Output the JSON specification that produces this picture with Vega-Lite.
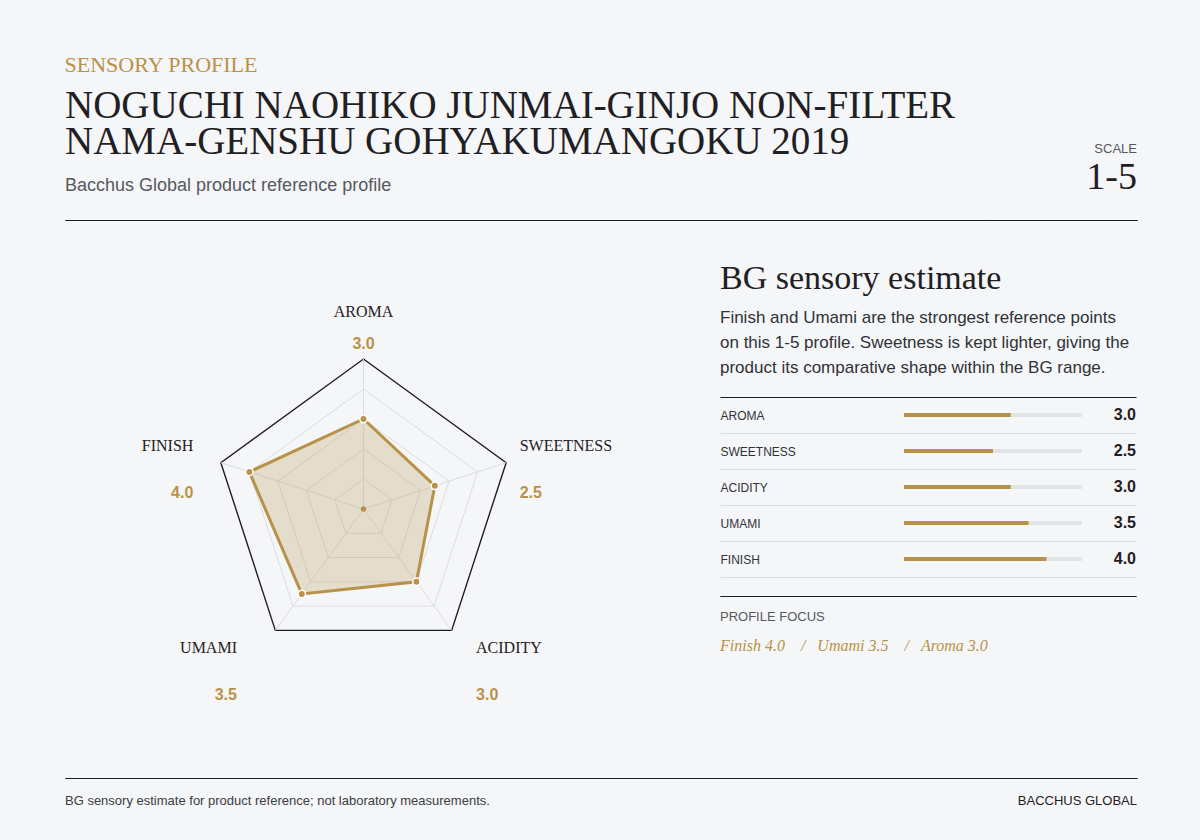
{
  "$schema": "https://vega.github.io/schema/vega-lite/v6.json",
  "background": "#f5f6f8",
  "padding": {"left": 64, "right": 64, "top": 53, "bottom": 40},
  "datasets": {
    "axes": [
      {"axis": "AROMA", "value": 3.0},
      {"axis": "SWEETNESS", "value": 2.5},
      {"axis": "ACIDITY", "value": 3.0},
      {"axis": "UMAMI", "value": 3.5},
      {"axis": "FINISH", "value": 4.0}
    ]
  },
  "title": {"text": "SENSORY PROFILE", "anchor": "start", "font": "Liberation Serif", "fontSize": 22, "fontWeight": "normal", "color": "#b99249", "offset": 10},
  "spacing": 36,
  "vconcat": [
    {
      "bounds": "flush",
      "spacing": 0,
      "hconcat": [
        {
          "width": 922, "height": 0.01,
          "view": {"stroke": "#1d1e22", "strokeWidth": 1},
          "data": {"values": [{}]},
          "mark": {"type": "text", "text": ""},
          "encoding": {},
          "title": {
            "text": ["NOGUCHI NAOHIKO JUNMAI-GINJO NON-FILTER", "NAMA-GENSHU GOHYAKUMANGOKU 2019"],
            "subtitle": "Bacchus Global product reference profile",
            "anchor": "start", "font": "Liberation Serif", "fontSize": 39, "fontWeight": "normal", "lineHeight": 36, "color": "#1f2023",
            "subtitleFont": "Liberation Sans", "subtitleFontSize": 18, "subtitleColor": "#55595f", "subtitlePadding": 15,
            "offset": 19
          }
        },
        {
          "width": 150, "height": 0.01,
          "view": {"stroke": "#1d1e22", "strokeWidth": 1},
          "data": {"values": [{}]},
          "mark": {"type": "text", "text": ""},
          "encoding": {},
          "title": {
            "text": "SCALE", "subtitle": "1-5",
            "anchor": "end", "font": "Liberation Sans", "fontSize": 13, "fontWeight": "normal", "color": "#55595f",
            "subtitleFont": "Liberation Serif", "subtitleFontSize": 38, "subtitleColor": "#1f2023", "subtitlePadding": 3,
            "offset": 17
          }
        }
      ]
    },
    {
      "spacing": 54,
      "hconcat": [
        {
          "width": 600, "height": 338,
          "data": {"name": "axes"},
          "transform": [
            {"window": [{"op": "row_number", "as": "i"}]},
            {"calculate": "(datum.i - 1) * 2 * PI / 5", "as": "a"},
            {"calculate": "datum.value * sin(datum.a)", "as": "px"},
            {"calculate": "datum.value * cos(datum.a)", "as": "py"},
            {"calculate": "5 * sin(datum.a)", "as": "ox"},
            {"calculate": "5 * cos(datum.a)", "as": "oy"},
            {"calculate": "4 * sin(datum.a)", "as": "lx"},
            {"calculate": "6 * cos(datum.a)", "as": "ly"},
            {"calculate": "0", "as": "zero"}
          ],
          "layer": [
            {
              "transform": [
                {"calculate": "[1, 2, 3, 4, 5]", "as": "rings"},
                {"flatten": ["rings"], "as": ["ring"]},
                {"calculate": "datum.ring * sin(datum.a)", "as": "gx"},
                {"calculate": "datum.ring * cos(datum.a)", "as": "gy"}
              ],
              "mark": {"type": "line", "interpolate": "linear-closed"},
              "encoding": {
                "x": {"field": "gx", "type": "quantitative", "scale": {"domain": [-9.95, 10.05], "nice": false, "zero": false}, "axis": null},
                "y": {"field": "gy", "type": "quantitative", "scale": {"domain": [-7.5333, 3.7333], "nice": false, "zero": false}, "axis": null},
                "detail": {"field": "ring", "type": "nominal"},
                "order": {"field": "i", "type": "quantitative"},
                "stroke": {"condition": {"test": "datum.ring === 5", "value": "#1d1e22"}, "value": "#dcdde0"},
                "strokeWidth": {"condition": {"test": "datum.ring === 5", "value": 1.4}, "value": 1}
              }
            },
            {
              "mark": {"type": "rule", "color": "#dcdde0", "strokeWidth": 1},
              "encoding": {
                "x": {"field": "zero", "type": "quantitative", "scale": {"domain": [-9.95, 10.05], "nice": false, "zero": false}, "axis": null},
                "y": {"field": "zero", "type": "quantitative", "scale": {"domain": [-7.5333, 3.7333], "nice": false, "zero": false}, "axis": null},
                "x2": {"field": "ox"},
                "y2": {"field": "oy"}
              }
            },
            {
              "mark": {"type": "line", "interpolate": "linear-closed", "fill": "#b99249", "fillOpacity": 0.25, "stroke": "#b99249", "strokeWidth": 3},
              "encoding": {
                "x": {"field": "px", "type": "quantitative", "scale": {"domain": [-9.95, 10.05], "nice": false, "zero": false}, "axis": null},
                "y": {"field": "py", "type": "quantitative", "scale": {"domain": [-7.5333, 3.7333], "nice": false, "zero": false}, "axis": null},
                "order": {"field": "i", "type": "quantitative"}
              }
            },
            {
              "mark": {"type": "circle", "size": 55, "color": "#b99249", "opacity": 1, "stroke": "#ffffff", "strokeWidth": 1.5},
              "encoding": {
                "x": {"field": "px", "type": "quantitative", "scale": {"domain": [-9.95, 10.05], "nice": false, "zero": false}, "axis": null},
                "y": {"field": "py", "type": "quantitative", "scale": {"domain": [-7.5333, 3.7333], "nice": false, "zero": false}, "axis": null}
              }
            },
            {
              "transform": [{"filter": "datum.i === 1"}],
              "mark": {"type": "circle", "size": 30, "color": "#b99249", "opacity": 1},
              "encoding": {
                "x": {"field": "zero", "type": "quantitative", "scale": {"domain": [-9.95, 10.05], "nice": false, "zero": false}, "axis": null},
                "y": {"field": "zero", "type": "quantitative", "scale": {"domain": [-7.5333, 3.7333], "nice": false, "zero": false}, "axis": null}
              }
            },
            {
              "transform": [{"filter": "datum.i === 1"}],
              "mark": {"type": "text", "align": "center", "baseline": "middle", "dy": -17, "font": "Liberation Serif", "fontSize": 16, "color": "#1f2023"},
              "encoding": {
                "x": {"field": "lx", "type": "quantitative", "scale": {"domain": [-9.95, 10.05], "nice": false, "zero": false}, "axis": null},
                "y": {"field": "ly", "type": "quantitative", "scale": {"domain": [-7.5333, 3.7333], "nice": false, "zero": false}, "axis": null},
                "text": {"field": "axis", "type": "nominal"}
              }
            },
            {
              "transform": [{"filter": "datum.i === 2 || datum.i === 3"}],
              "mark": {"type": "text", "align": "left", "baseline": "middle", "dx": 42, "dy": -7, "font": "Liberation Serif", "fontSize": 16, "color": "#1f2023"},
              "encoding": {
                "x": {"field": "lx", "type": "quantitative", "scale": {"domain": [-9.95, 10.05], "nice": false, "zero": false}, "axis": null},
                "y": {"field": "ly", "type": "quantitative", "scale": {"domain": [-7.5333, 3.7333], "nice": false, "zero": false}, "axis": null},
                "text": {"field": "axis", "type": "nominal"}
              }
            },
            {
              "transform": [{"filter": "datum.i === 4 || datum.i === 5"}],
              "mark": {"type": "text", "align": "right", "baseline": "middle", "dx": -56, "dy": -7, "font": "Liberation Serif", "fontSize": 16, "color": "#1f2023"},
              "encoding": {
                "x": {"field": "lx", "type": "quantitative", "scale": {"domain": [-9.95, 10.05], "nice": false, "zero": false}, "axis": null},
                "y": {"field": "ly", "type": "quantitative", "scale": {"domain": [-7.5333, 3.7333], "nice": false, "zero": false}, "axis": null},
                "text": {"field": "axis", "type": "nominal"}
              }
            },
            {
              "transform": [{"filter": "datum.i === 1"}],
              "mark": {"type": "text", "align": "center", "baseline": "middle", "dy": 15, "font": "Liberation Sans", "fontSize": 16, "fontWeight": "bold", "color": "#b99249"},
              "encoding": {
                "x": {"field": "lx", "type": "quantitative", "scale": {"domain": [-9.95, 10.05], "nice": false, "zero": false}, "axis": null},
                "y": {"field": "ly", "type": "quantitative", "scale": {"domain": [-7.5333, 3.7333], "nice": false, "zero": false}, "axis": null},
                "text": {"field": "value", "type": "quantitative", "format": ".1f"}
              }
            },
            {
              "transform": [{"filter": "datum.i === 2 || datum.i === 3"}],
              "mark": {"type": "text", "align": "left", "baseline": "middle", "dx": 42, "dy": 40, "font": "Liberation Sans", "fontSize": 16, "fontWeight": "bold", "color": "#b99249"},
              "encoding": {
                "x": {"field": "lx", "type": "quantitative", "scale": {"domain": [-9.95, 10.05], "nice": false, "zero": false}, "axis": null},
                "y": {"field": "ly", "type": "quantitative", "scale": {"domain": [-7.5333, 3.7333], "nice": false, "zero": false}, "axis": null},
                "text": {"field": "value", "type": "quantitative", "format": ".1f"}
              }
            },
            {
              "transform": [{"filter": "datum.i === 4 || datum.i === 5"}],
              "mark": {"type": "text", "align": "right", "baseline": "middle", "dx": -56, "dy": 40, "font": "Liberation Sans", "fontSize": 16, "fontWeight": "bold", "color": "#b99249"},
              "encoding": {
                "x": {"field": "lx", "type": "quantitative", "scale": {"domain": [-9.95, 10.05], "nice": false, "zero": false}, "axis": null},
                "y": {"field": "ly", "type": "quantitative", "scale": {"domain": [-7.5333, 3.7333], "nice": false, "zero": false}, "axis": null},
                "text": {"field": "value", "type": "quantitative", "format": ".1f"}
              }
            }
          ]
        },
        {
          "spacing": 12,
          "vconcat": [
            {
              "width": 416, "height": 180,
              "data": {"name": "axes"},
              "transform": [{"calculate": "0", "as": "zero"}, {"calculate": "5", "as": "full"}],
              "title": {
                "text": "BG sensory estimate",
                "subtitle": ["Finish and Umami are the strongest reference points", "on this 1-5 profile. Sweetness is kept lighter, giving the", "product its comparative shape within the BG range."],
                "anchor": "start", "font": "Liberation Serif", "fontSize": 34, "fontWeight": "normal", "color": "#1f2023",
                "subtitleFont": "Liberation Sans", "subtitleFontSize": 17, "subtitleLineHeight": 25, "subtitleColor": "#2f3237", "subtitlePadding": 14,
                "offset": 15
              },
              "encoding": {
                "y": {
                  "field": "axis", "type": "nominal", "sort": null,
                  "scale": {"paddingInner": 0, "paddingOuter": 0},
                  "axis": {"title": null, "orient": "left", "labelAlign": "left", "labelPadding": 0, "ticks": false, "domain": false, "grid": true, "tickBand": "extent", "gridColor": "#dcdde0", "gridWidth": 1, "labelFont": "Liberation Sans", "labelFontSize": 12, "labelColor": "#2f3237", "minExtent": 0}
                }
              },
              "layer": [
                {
                  "mark": {"type": "rule", "color": "#e3e4e6", "strokeWidth": 4},
                  "encoding": {
                    "x": {"field": "zero", "type": "quantitative", "scale": {"domain": [-5.1685, 6.5169], "nice": false, "zero": false},
                      "axis": {"orient": "top", "title": null, "labels": false, "ticks": false, "grid": false, "domain": true, "domainColor": "#1d1e22", "domainWidth": 1, "zindex": 1, "minExtent": 0}},
                    "x2": {"field": "full"}
                  }
                },
                {
                  "mark": {"type": "rule", "color": "#b99249", "strokeWidth": 4},
                  "encoding": {
                    "x": {"field": "zero", "type": "quantitative", "scale": {"domain": [-5.1685, 6.5169], "nice": false, "zero": false}},
                    "x2": {"field": "value"}
                  }
                },
                {
                  "mark": {"type": "text", "align": "right", "baseline": "middle", "dx": 54, "font": "Liberation Sans", "fontSize": 16, "fontWeight": "bold", "color": "#1f2023"},
                  "encoding": {
                    "x": {"field": "full", "type": "quantitative", "scale": {"domain": [-5.1685, 6.5169], "nice": false, "zero": false}},
                    "text": {"field": "value", "type": "quantitative", "format": ".1f"}
                  }
                }
              ]
            },
            {
              "width": 416, "height": 0.01,
              "view": {"stroke": "#1d1e22", "strokeWidth": 1},
              "data": {"values": [{}]},
              "mark": {"type": "text", "text": ""},
              "encoding": {},
              "title": {
                "text": "PROFILE FOCUS", "orient": "bottom", "anchor": "start",
                "font": "Liberation Sans", "fontSize": 13, "fontWeight": "normal", "color": "#55595f", "offset": 10,
                "subtitle": "Finish 4.0\u00a0\u00a0\u00a0\u00a0/\u00a0\u00a0\u00a0Umami 3.5\u00a0\u00a0\u00a0\u00a0/\u00a0\u00a0\u00a0Aroma 3.0",
                "subtitleFont": "Liberation Serif", "subtitleFontStyle": "italic", "subtitleFontSize": 16, "subtitleColor": "#b99249", "subtitlePadding": 14
              }
            }
          ]
        }
      ]
    },
    {
      "bounds": "flush",
      "spacing": 0,
      "hconcat": [
        {
          "width": 536, "height": 0.01,
          "view": {"stroke": "#1d1e22", "strokeWidth": 1},
          "data": {"values": [{}]},
          "mark": {"type": "text", "text": ""},
          "encoding": {},
          "title": {"text": "BG sensory estimate for product reference; not laboratory measurements.", "orient": "bottom", "anchor": "start", "font": "Liberation Sans", "fontSize": 13, "fontWeight": "normal", "color": "#3a3d42", "offset": 12}
        },
        {
          "width": 536, "height": 0.01,
          "view": {"stroke": "#1d1e22", "strokeWidth": 1},
          "data": {"values": [{}]},
          "mark": {"type": "text", "text": ""},
          "encoding": {},
          "title": {"text": "BACCHUS GLOBAL", "orient": "bottom", "anchor": "end", "font": "Liberation Sans", "fontSize": 13, "fontWeight": "normal", "color": "#1f2023", "offset": 12}
        }
      ]
    }
  ],
  "config": {
    "view": {"stroke": null},
    "font": "Liberation Sans"
  }
}
